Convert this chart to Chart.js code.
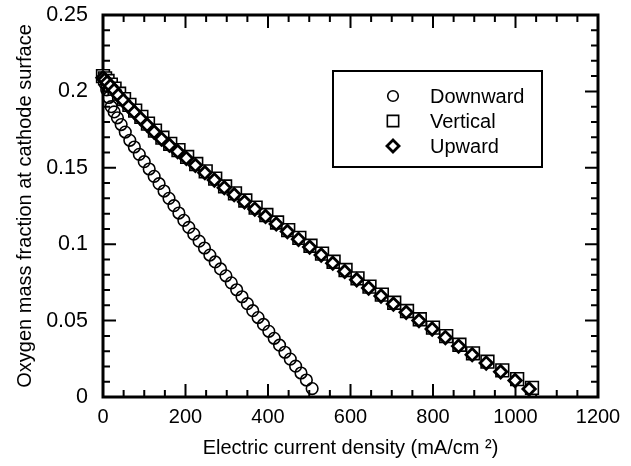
<!DOCTYPE html>
<html>
<head>
<meta charset="utf-8">
<script src="https://cdn.jsdelivr.net/npm/chart.js@4/dist/chart.umd.min.js"></script>
<style>
  html, body { margin: 0; padding: 0; background: #fff; }
  #wrap { width: 631px; height: 466px; }
</style>
</head>
<body>
<div id="wrap"><canvas id="myChart" width="631" height="466"></canvas></div>
<script>
// values
const downwardX = [0, 2, 5, 9, 14, 20, 27, 35, 44, 54, 65, 76, 88, 100, 112, 124, 136, 148, 160, 172,
  184, 196, 208, 220, 233, 246, 259, 272, 285, 298, 311, 324, 337, 350, 363, 376, 389, 402, 415, 428,
  441, 454, 467, 480, 493, 507];
const downwardY = [.2100, .2080, .2050, .2010, .1960, .1900, .1866, .1827, .1783, .1734, .1680, .1636, .1588, .1540, .1492, .1444, .1396, .1348, .1300, .1252,
  .1204, .1156, .1110, .1066, .1020, .0975, .0929, .0884, .0838, .0793, .0747, .0702, .0656, .0611, .0565, .0520, .0475, .0430, .0384, .0339,
  .0293, .0248, .0202, .0157, .0111, .0055];

const verticalX = [0, 5, 11, 19, 28, 39, 51, 64, 78, 93, 109, 126, 144, 163, 183, 204, 226, 249, 272, 296,
  320, 345, 370, 396, 422, 449, 476, 503, 531, 559, 588, 617, 646, 676, 706, 737, 768, 800, 832, 864,
  897, 932, 968, 1004, 1040];
const verticalY = [.2100, .2085, .2068, .2044, .2018, .1985, .1950, .1912, .1874, .1833, .1789, .1743, .1697, .1657, .1616, .1571, .1525, .1477, .1429, .1378,
  .1333, .1286, .1239, .1191, .1142, .1092, .1041, .0990, .0938, .0885, .0831, .0776, .0722, .0670, .0617, .0563, .0509, .0454, .0398, .0342,
  .0286, .0231, .0174, .0117, .0060];

const upwardX = [0, 4, 10, 18, 27, 37, 49, 62, 76, 91, 107, 124, 142, 161, 181, 202, 224, 247, 270, 294,
  318, 343, 368, 394, 420, 447, 474, 501, 529, 557, 586, 615, 644, 674, 704, 735, 766, 798, 830, 862,
  895, 929, 964, 999, 1033];
const upwardY = [.2090, .2076, .2059, .2035, .2008, .1975, .1940, .1902, .1864, .1823, .1780, .1734, .1688, .1648, .1607, .1562, .1516, .1468, .1420, .1370,
  .1324, .1277, .1230, .1182, .1133, .1083, .1032, .0981, .0929, .0876, .0822, .0767, .0713, .0661, .0608, .0554, .0500, .0445, .0389, .0333,
  .0277, .0222, .0165, .0108, .0052];

const seriesNames = ['Downward', 'Vertical', 'Upward'];
const xTicks = [0, 200, 400, 600, 800, 1000, 1200];
const xTickLabels = ['0', '200', '400', '600', '800', '1000', '1200'];
const yTicks = [0, 0.05, 0.1, 0.15, 0.2, 0.25];
const yTickLabels = ['0', '0.05', '0.1', '0.15', '0.2', '0.25'];

const FONT = 'Arial, "Liberation Sans", sans-serif';

function points(xs, ys) {
  return xs.map((x, i) => ({ x: x, y: ys[i] }));
}

// frame, inward major/minor ticks on all four sides
const framePlugin = {
  id: 'frame',
  beforeDatasetsDraw(chart) {
    const { ctx, chartArea: a, scales: { x, y } } = chart;
    ctx.save();
    ctx.strokeStyle = '#000';
    ctx.lineWidth = 2;
    for (let v = 0; v <= 1200; v += 50) {
      const px = x.getPixelForValue(v);
      const len = v % 200 === 0 ? 13 : 7;
      ctx.beginPath();
      ctx.moveTo(px, a.bottom); ctx.lineTo(px, a.bottom - len);
      ctx.moveTo(px, a.top); ctx.lineTo(px, a.top + len);
      ctx.stroke();
    }
    for (let k = 0; k <= 25; k++) {
      const py = y.getPixelForValue(k / 100);
      const len = k % 5 === 0 ? 13 : 7;
      ctx.beginPath();
      ctx.moveTo(a.left, py); ctx.lineTo(a.left + len, py);
      ctx.moveTo(a.right, py); ctx.lineTo(a.right - len, py);
      ctx.stroke();
    }
    ctx.lineWidth = 3;
    ctx.strokeRect(a.left, a.top, a.right - a.left, a.bottom - a.top);
    ctx.restore();
  }
};

// boxed legend inside the plot
const legendPlugin = {
  id: 'boxLegend',
  afterDraw(chart) {
    const ctx = chart.ctx;
    ctx.save();
    ctx.strokeStyle = '#000';
    ctx.lineWidth = 2;
    ctx.strokeRect(333, 71, 209, 96);
    ctx.font = '20px ' + FONT;
    ctx.textBaseline = 'middle';
    const rows = [96, 121, 146];
    chart.data.datasets.forEach((ds, i) => {
      const opts = {
        pointStyle: ds.pointStyle,
        radius: ds.legendRadius,
        borderWidth: ds.pointBorderWidth,
        rotation: 0
      };
      ctx.fillStyle = '#fff';
      ctx.strokeStyle = '#000';
      ctx.lineWidth = ds.pointBorderWidth;
      Chart.helpers.drawPoint(ctx, opts, 393, rows[i]);
      ctx.fillStyle = '#000';
      ctx.fillText(ds.label, 430, rows[i] + 1);
    });
    ctx.restore();
  }
};

const ctx = document.getElementById('myChart').getContext('2d');
new Chart(ctx, {
  type: 'scatter',
  data: {
    datasets: [{
      label: seriesNames[0],
      data: points(downwardX, downwardY),
      pointStyle: 'circle',
      pointRadius: 5.8,
      legendRadius: 5.3,
      pointBorderWidth: 1.6,
      pointBackgroundColor: 'rgba(255,255,255,0)',
      pointBorderColor: '#000',
      order: 2,
      clip: false
    }, {
      label: seriesNames[1],
      data: points(verticalX, verticalY),
      pointStyle: 'rect',
      pointRadius: 9,
      legendRadius: 8,
      pointBorderWidth: 1.6,
      pointBackgroundColor: '#fff',
      pointBorderColor: '#000',
      order: 1,
      clip: false
    }, {
      label: seriesNames[2],
      data: points(upwardX, upwardY),
      pointStyle: 'rectRot',
      pointRadius: 6.2,
      legendRadius: 6,
      pointBorderWidth: 2.8,
      pointBackgroundColor: '#fff',
      pointBorderColor: '#000',
      order: 0,
      clip: false
    }]
  },
  options: {
    responsive: false,
    animation: false,
    events: [],
    layout: { padding: { left: 0, top: 15, right: 33, bottom: 0 } },
    plugins: { legend: { display: false }, tooltip: { enabled: false } },
    scales: {
      x: {
        type: 'linear',
        min: 0,
        max: 1200,
        afterBuildTicks: s => { s.ticks = xTicks.map(v => ({ value: v })); },
        afterFit: s => { s.height = 69; s.paddingLeft = 0; s.paddingRight = 0; },
        grid: { display: false, drawTicks: false },
        border: { display: false },
        ticks: {
          color: '#000',
          padding: 8,
          maxRotation: 0,
          font: { family: FONT, size: 20 },
          callback: v => xTickLabels[xTicks.indexOf(v)]
        },
        title: {
          display: true,
          text: 'Electric current density (mA/cm \u00B2)',
          color: '#000',
          font: { family: FONT, size: 20 },
          padding: { top: 0, bottom: 6 }
        }
      },
      y: {
        type: 'linear',
        min: 0,
        max: 0.25,
        afterBuildTicks: s => { s.ticks = yTicks.map(v => ({ value: v })); },
        afterFit: s => { s.width = 103; s.paddingTop = 0; s.paddingBottom = 0; },
        grid: { display: false, drawTicks: false },
        border: { display: false },
        ticks: {
          color: '#000',
          padding: 15,
          font: { family: FONT, size: 21.5 },
          callback: v => yTickLabels[yTicks.findIndex(t => Math.abs(t - v) < 1e-9)]
        },
        title: {
          display: true,
          text: 'Oxygen mass fraction at cathode surface',
          color: '#000',
          font: { family: FONT, size: 20 },
          padding: { top: 13, bottom: 0 }
        }
      }
    }
  },
  plugins: [framePlugin, legendPlugin]
});
</script>
</body>
</html>
